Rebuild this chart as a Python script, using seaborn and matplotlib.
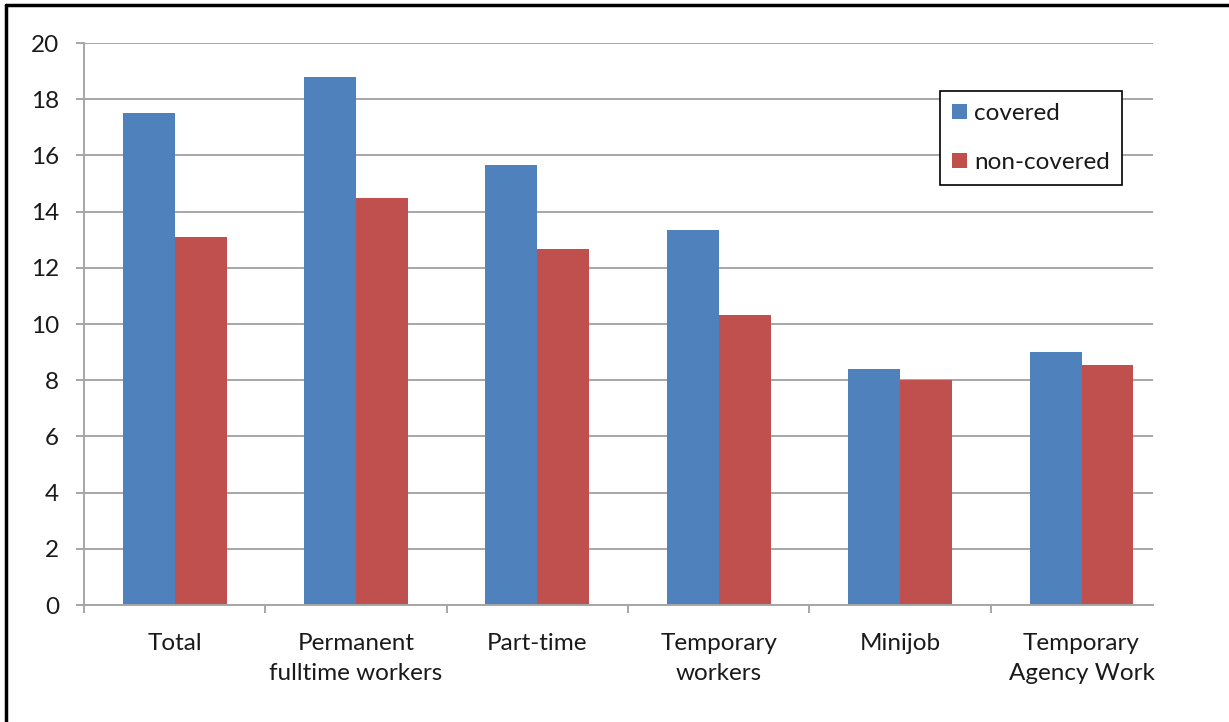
import numpy as np
import pandas as pd
import matplotlib
matplotlib.use("Agg")
import matplotlib.pyplot as plt
from matplotlib.lines import Line2D
from matplotlib.ticker import FixedLocator
import seaborn as sns

# Categories and series values
categories = ["Total", "Permanent\nfulltime workers", "Part-time",
              "Temporary\nworkers", "Minijob", "Temporary\nAgency Work"]
covered = [17.5, 18.8, 15.65, 13.35, 8.4, 9.0]
non_covered = [13.1, 14.5, 12.67, 10.33, 8.0, 8.55]
series_names = ["covered", "non-covered"]
y_ticks = [0, 2, 4, 6, 8, 10, 12, 14, 16, 18, 20]

df = pd.DataFrame({
    "category": categories * 2,
    "value": covered + non_covered,
    "series": [series_names[0]] * len(categories) + [series_names[1]] * len(categories),
})

sns.set_theme(style="white")
plt.rcParams["font.family"] = ["Lato", "DejaVu Sans"]

fig = plt.figure(figsize=(12.29, 7.22), dpi=100)
ax = fig.add_axes([0.0683, 0.162, 0.8697, 0.7784])

palette = {"covered": "#4F81BD", "non-covered": "#C0504D"}
sns.barplot(data=df, x="category", y="value", hue="series", order=categories,
            hue_order=series_names, palette=palette, width=0.573,
            saturation=1, ax=ax, legend=True, edgecolor="none", linewidth=0)

# The plot area stops a little short of the last category's right edge
ax.set_xlim(-0.5, 5.393)
ax.set_ylim(0, 20)
ax.set_yticks(y_ticks)
ax.set_yticklabels([str(t) for t in y_ticks])
ax.set_xticks(range(len(categories)))
ax.set_xticklabels(categories, linespacing=1.55)
ax.set_xlabel("")
ax.set_ylabel("")

# Gridlines behind bars
ax.set_axisbelow(True)
ax.yaxis.grid(True, color="#a6a6a6", linewidth=1.4)
ax.xaxis.grid(False)

for side in ["top", "right"]:
    ax.spines[side].set_visible(False)
for side in ["left", "bottom"]:
    ax.spines[side].set_color("#a6a6a6")
    ax.spines[side].set_linewidth(1.4)

label_size = 17.5
ax.tick_params(axis="y", which="major", length=6, width=1.4, color="#a6a6a6",
               labelsize=label_size, labelcolor="#1a1a1a", pad=12, left=True)
ax.tick_params(axis="x", which="major", length=0, labelsize=label_size,
               labelcolor="#1a1a1a", pad=20)
# Category separators along the x axis
ax.xaxis.set_minor_locator(FixedLocator(np.arange(-0.5, len(categories) - 1, 1.0)))
ax.tick_params(axis="x", which="minor", length=6, width=1.4, color="#a6a6a6",
               bottom=True)

# Legend with square markers in a black box
handles, labels = ax.get_legend_handles_labels()
leg = ax.legend(handles, labels, loc="upper right",
                bbox_to_anchor=(1122 / 1229, 1 - 91 / 722),
                bbox_transform=fig.transFigure,
                fontsize=label_size, frameon=True, fancybox=False, framealpha=1,
                edgecolor="black", handlelength=0.6, handleheight=0.6,
                handletextpad=0.3, labelspacing=1.15, borderpad=0.5,
                borderaxespad=0)
leg.get_frame().set_linewidth(1.2)
for t in leg.get_texts():
    t.set_color("#1a1a1a")

# Page frame lines
fig.add_artist(Line2D([6 / 1229, 6 / 1229], [0, 1 - 5 / 722],
                      transform=fig.transFigure, color="black", linewidth=2.5))
fig.add_artist(Line2D([6 / 1229, 1], [1 - 5 / 722, 1 - 5 / 722],
                      transform=fig.transFigure, color="black", linewidth=2.5))

fig.savefig("out.png", dpi=100)
